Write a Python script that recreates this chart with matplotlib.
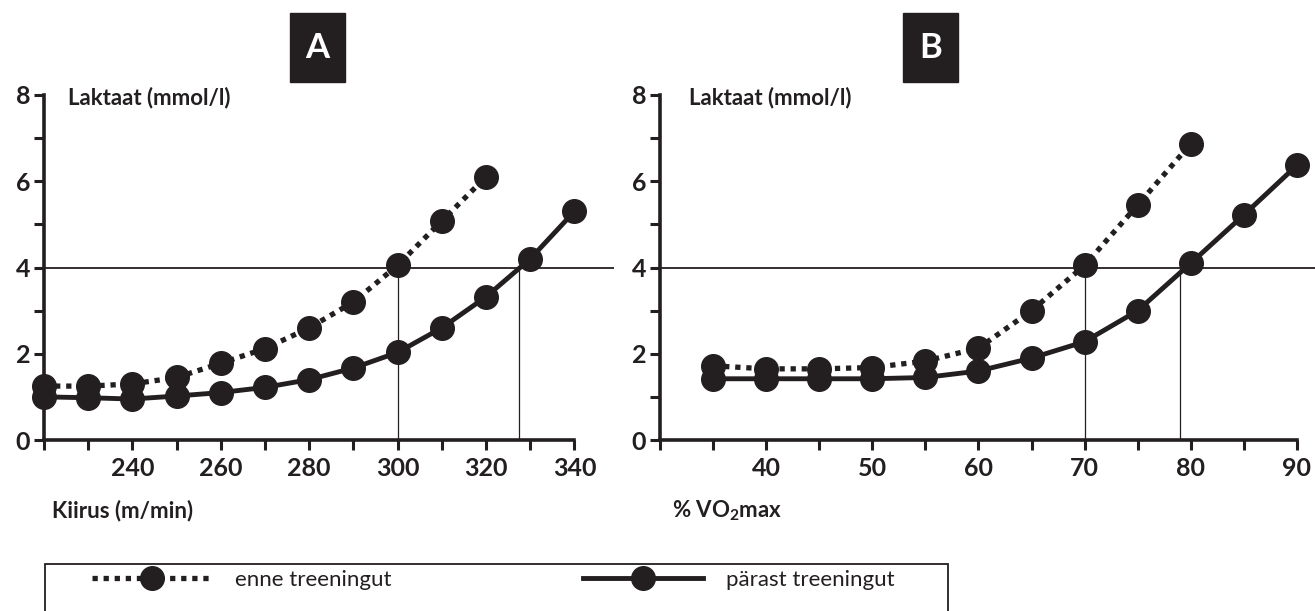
import matplotlib
matplotlib.use("Agg")
import matplotlib.pyplot as plt
from matplotlib.patches import Rectangle

# panel A: lactate vs running speed
speed_before = [220, 230, 240, 250, 260, 270, 280, 290, 300, 310, 320]
lac_speed_before = [1.25, 1.25, 1.3, 1.45, 1.78, 2.12, 2.6, 3.2, 4.05, 5.08, 6.1]
speed_after = [220, 230, 240, 250, 260, 270, 280, 290, 300, 310, 320, 330, 340]
lac_speed_after = [1.0, 0.98, 0.95, 1.02, 1.1, 1.22, 1.4, 1.67, 2.03, 2.6, 3.32, 4.2, 5.3]
thr_A = [300, 327.5]

# panel B: lactate vs %VO2max
vo2_before = [35, 40, 45, 50, 55, 60, 65, 70, 75, 80]
lac_vo2_before = [1.72, 1.65, 1.65, 1.68, 1.83, 2.13, 3.0, 4.05, 5.45, 6.87]
vo2_after = [35, 40, 45, 50, 55, 60, 65, 70, 75, 80, 85, 90]
lac_vo2_after = [1.42, 1.42, 1.42, 1.42, 1.45, 1.6, 1.9, 2.28, 3.0, 4.1, 5.22, 6.37]
thr_B = [70, 79]

ticks_A = list(range(220, 341, 10))
ticklab_A = ['' if t == 220 else (str(t) if t % 20 == 0 else '') for t in ticks_A]
ticks_B = list(range(30, 91, 5))
ticklab_B = [str(t) if (t % 10 == 0 and t > 30) else '' for t in ticks_B]
yticks = list(range(9))
yticklab = [str(t) if t % 2 == 0 else '' for t in yticks]

label_before = 'enne treeningut'
label_after = 'pärast treeningut'

plt.rcParams['font.family'] = ['Lato', 'DejaVu Sans']
plt.rcParams['mathtext.fontset'] = 'custom'
plt.rcParams['mathtext.rm'] = 'Lato:bold'
plt.rcParams['mathtext.bf'] = 'Lato:bold'

W, H = 1315, 611
fig = plt.figure(figsize=(W / 100, H / 100), dpi=100)

axA = fig.add_axes([44 / W, 171 / H, 574.6 / W, 345 / H])
axB = fig.add_axes([660 / W, 171 / H, 655 / W, 345 / H])

def style(ax, xlim, xticks, xlabels, xend, xmax_line, xthr):
    ax.set_xlim(*xlim)
    ax.set_ylim(0, 8)
    for s in ['top', 'right']:
        ax.spines[s].set_visible(False)
    for s in ['left', 'bottom']:
        ax.spines[s].set_linewidth(2.6)
        ax.spines[s].set_color('#231f20')
    ax.spines['bottom'].set_bounds(xlim[0], xend)
    ax.spines['left'].set_bounds(0, 8)
    ax.set_xticks(xticks)
    ax.set_xticklabels(xlabels)
    ax.set_yticks(yticks)
    ax.set_yticklabels(yticklab)
    ax.tick_params(length=7, width=2.2, color='#231f20', labelsize=18,
                   labelcolor='#231f20', direction='out')
    ax.tick_params(axis='y', pad=3)
    ax.tick_params(axis='x', pad=5)
    for lab in ax.get_xticklabels() + ax.get_yticklabels():
        lab.set_fontweight('bold')
    ax.hlines(4, xlim[0], xmax_line, color='#231f20', lw=1.3, clip_on=False, zorder=1)
    ax.vlines(xthr, 0, 4, color='#231f20', lw=0.9, zorder=1)
    ax.patch.set_visible(False)

style(axA, (220, 350), ticks_A, ticklab_A, 340, 349, thr_A)
style(axB, (30, 91.7), ticks_B, ticklab_B, 90, 91.7, thr_B)

dots = (0, (1.0, 1.1))
mk = dict(marker='o', markersize=17, color='#231f20', clip_on=False, zorder=3)
l1, = axA.plot(speed_before, lac_speed_before, linestyle=dots, lw=3.8,
               label=label_before, **mk)
l2, = axA.plot(speed_after, lac_speed_after, linestyle='-', lw=3.5,
               label=label_after, **mk)
axB.plot(vo2_before, lac_vo2_before, linestyle=dots, lw=3.8, **mk)
axB.plot(vo2_after, lac_vo2_after, linestyle='-', lw=3.5, **mk)

# axis texts
for x0 in [68, 689]:
    fig.text(x0 / W, 1 - 98 / H, 'Laktaat (mmol/l)', fontsize=16, fontweight='bold',
             color='#231f20', va='center', ha='left')
fig.text(52 / W, 1 - 511 / H, 'Kiirus (m/min)', fontsize=16, fontweight='bold',
         color='#231f20', va='center', ha='left')
fig.text(672 / W, 1 - 511 / H, r'% VO$_\mathregular{2}$max', fontsize=16, fontweight='bold',
         color='#231f20', va='center', ha='left')

# panel letters
for x0, letter in [(290, 'A'), (903, 'B')]:
    fig.patches.append(Rectangle((x0 / W, 1 - 82 / H), 55 / W, 69 / H,
                                 transform=fig.transFigure, color='#231f20'))
    fig.text((x0 + 27.5) / W, 1 - 48 / H, letter, fontsize=25, fontweight='bold',
             color='white', ha='center', va='center')

# legend frame (runs off the bottom)
fig.patches.append(Rectangle((44.7 / W, -0.1), (948 - 44.7) / W, 0.1 + 1 - 563.5 / H,
                             transform=fig.transFigure, fill=False,
                             edgecolor='#231f20', lw=1.3))
fig.legend([l1, l2], [label_before, label_after], loc='center left',
           bbox_to_anchor=(91.6 / W, 1 - 580 / H), ncol=2, frameon=False,
           numpoints=1, handlelength=5.4, handletextpad=1.05, columnspacing=8.6,
           borderpad=0, borderaxespad=0,
           prop={'size': 16, 'weight': 'normal'}, labelcolor='#231f20')

fig.savefig('out.png', dpi=100)
